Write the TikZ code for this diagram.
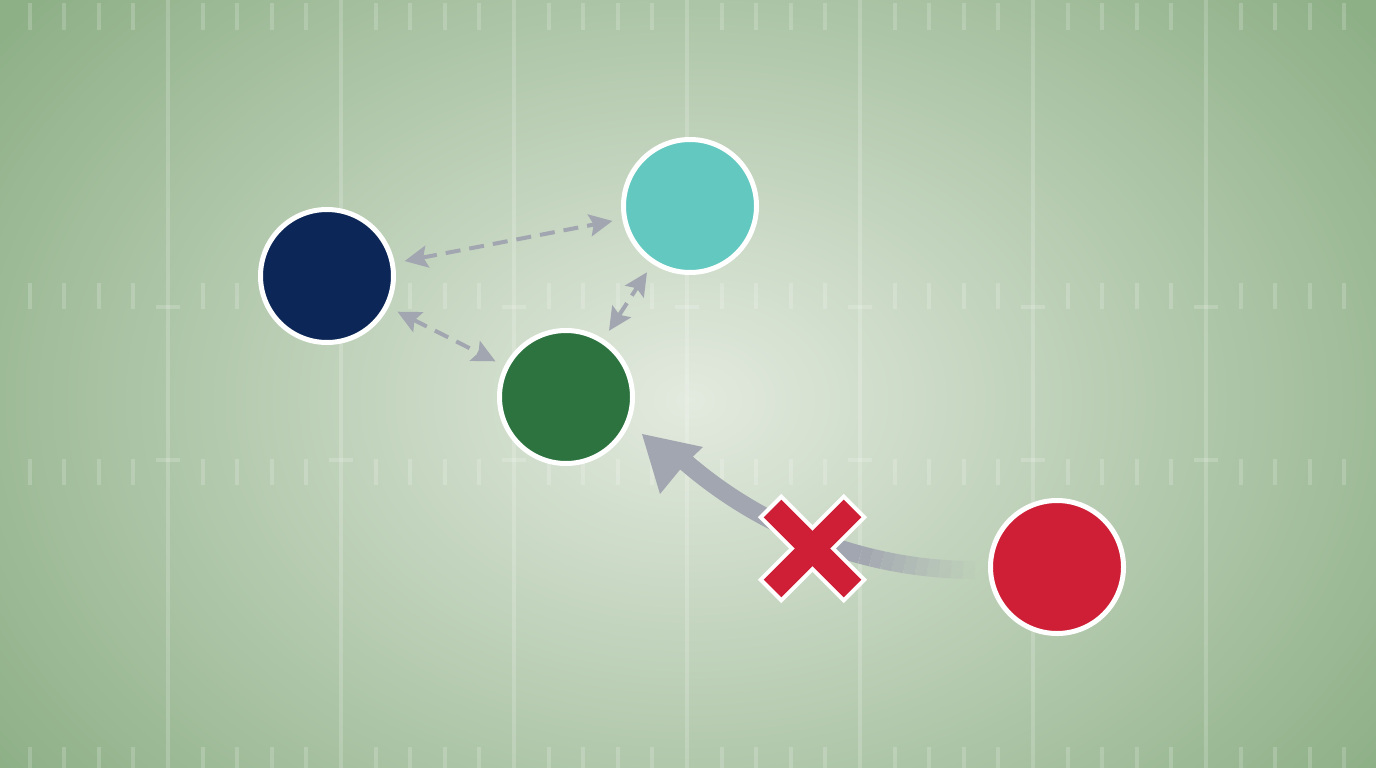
\documentclass[tikz,border=0pt]{standalone}
\usetikzlibrary{arrows.meta}
\definecolor{bgin}{HTML}{E3EADF}
\definecolor{bgout}{HTML}{8EB087}
\definecolor{navyc}{HTML}{0C2657}
\definecolor{tealc}{HTML}{62C8C0}
\definecolor{greenc}{HTML}{2C7340}
\definecolor{redc}{HTML}{CE1F36}
\definecolor{arrowgray}{HTML}{A2A6B0}
\begin{document}
\begin{tikzpicture}[x=1pt,y=-1pt,
  player/.style={circle,draw=white,line width=5pt,minimum size=133pt,inner sep=0pt},
  fieldline/.style={white,opacity=0.18,line width=4pt},
  dasharrow/.style={arrowgray,line width=4pt,dash pattern=on 15pt off 9pt,
    {Stealth[length=23pt,width=22pt,inset=4pt]}-{Stealth[length=23pt,width=22pt,inset=4pt]},
    shorten >=10pt,shorten <=10pt},
  shaft/.style={arrowgray,line width=18pt},
  xwhite/.style={white,line width=33pt},
  xred/.style={redc,line width=25pt}]
\useasboundingbox (0,0) rectangle (1376,768);
% background
\fill[bgout] (0,0) rectangle (1376,768);
\begin{scope}
  \clip (0,0) rectangle (1376,768);
  \shade[inner color=bgin, outer color=bgout] (690,400) ellipse [x radius=850, y radius=620];
\end{scope}
% yard lines
\foreach \k in {0,...,6} {
  \draw[fieldline] ({168+173*\k},0) -- ({168+173*\k},768);
  \draw[fieldline] ({156+173*\k},307) -- ({180+173*\k},307);
  \draw[fieldline] ({156+173*\k},460) -- ({180+173*\k},460);
}
% hash marks
\foreach \g in {0,...,7} {
  \foreach \i in {0,...,3} {
    \draw[fieldline] ({29.6+173*\g+34.6*\i},3) -- ++(0,27);
    \draw[fieldline] ({29.6+173*\g+34.6*\i},283) -- ++(0,26);
    \draw[fieldline] ({29.6+173*\g+34.6*\i},459) -- ++(0,26);
    \draw[fieldline] ({29.6+173*\g+34.6*\i},747) -- ++(0,25);
  }
}
% players
\node[player,fill=navyc] (navy) at (327,276) {};
\node[player,fill=tealc] (teal) at (690,206) {};
\node[player,fill=greenc] (green) at (566,397) {};
\node[player,fill=redc] (red) at (1057,567) {};
% dashed passing lanes
\draw[dasharrow] (navy) -- (teal);
\draw[dasharrow] (navy) -- (green);
\draw[dasharrow] (green) -- (teal);
% blocked pass arrow
\coordinate (t0) at (975,570);
\coordinate (q0) at (934.75,570);
\coordinate (r0) at (896.3,564.5);
\coordinate (s) at (860.4,554.8);
\coordinate (r1) at (793.7,536.8);
\coordinate (q2) at (735.5,504.4);
\coordinate (p3) at (690,466);
\coordinate (hend) at (674.7,453.1);
\path (t0) .. controls (q0) and (r0) ..
  coordinate[pos=0] (a0) coordinate[pos=0.1] (a1) coordinate[pos=0.2] (a2)
  coordinate[pos=0.3] (a3) coordinate[pos=0.4] (a4) coordinate[pos=0.5] (a5)
  coordinate[pos=0.6] (a6) coordinate[pos=0.7] (a7) coordinate[pos=0.8] (a8)
  coordinate[pos=0.9] (a9) coordinate[pos=1] (a10) (s);
\foreach \i [evaluate=\i as \j using int(\i+1), evaluate=\i as \o using (\i+0.5)/10] in {0,...,9}
  \draw[shaft,opacity=\o] (a\i) -- (a\j);
\draw[shaft] (s) .. controls (r1) and (q2) .. (p3) -- (hend);
\coordinate (tip) at (642,434);
\coordinate (barbl) at (660,494);
\coordinate (notch) at (683,466);
\coordinate (barbr) at (703,447);
\fill[arrowgray] (tip) -- (barbl) -- (notch) -- (barbr) -- cycle;
% X mark
\begin{scope}[shift={(812.5,548.5)}]
  \draw[xwhite] (-42.9,-42.9) -- (42.9,42.9);
  \draw[xwhite] (-42.9,42.9) -- (42.9,-42.9);
  \draw[xred] (-40,-40) -- (40,40);
  \draw[xred] (-40,40) -- (40,-40);
\end{scope}
\end{tikzpicture}
\end{document}
